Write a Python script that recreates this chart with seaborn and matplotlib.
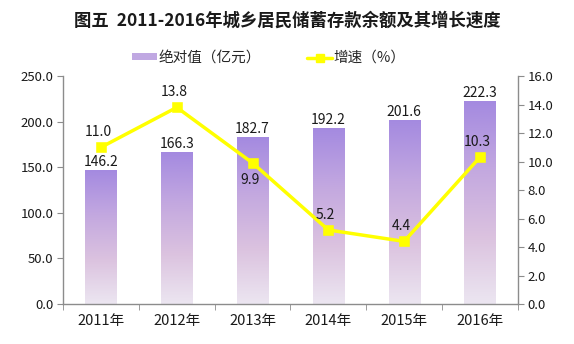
import numpy as np
import pandas as pd
import seaborn as sns
import matplotlib.pyplot as plt
from matplotlib.colors import LinearSegmentedColormap
from matplotlib.lines import Line2D
from matplotlib.patches import Patch

years = ['2011年', '2012年', '2013年', '2014年', '2015年', '2016年']
balance = [146.2, 166.3, 182.7, 192.2, 201.6, 222.3]
growth = [11.0, 13.8, 9.9, 5.2, 4.4, 10.3]
label_side = ['above', 'above', 'below', 'above', 'above', 'above']

sns.set_style('white')
plt.rcParams['font.family'] = ['Noto Sans CJK SC', 'DejaVu Sans']
plt.rcParams['axes.unicode_minus'] = False

df = pd.DataFrame({'year': years, 'balance': balance, 'growth': growth})

fig = plt.figure(figsize=(5.74, 3.44), dpi=100)
ax = fig.add_axes([0.110, 0.116, 0.792, 0.663])

sns.barplot(data=df, x='year', y='balance', ax=ax, width=0.41, color='#b9a0e0')

# gradient fill for bars (purple top -> pale pink bottom)
cmap = LinearSegmentedColormap.from_list('bars', ['#ece6f1', '#dbc2df', '#c3a8e0', '#a48ae0'])
grad = np.linspace(0, 1, 256).reshape(-1, 1)
for p in ax.patches:
    x0, y0 = p.get_x(), p.get_y()
    w, h = p.get_width(), p.get_height()
    ax.imshow(grad, extent=[x0, x0 + w, y0, y0 + h], origin='lower', cmap=cmap,
              aspect='auto', zorder=1)
    p.set_facecolor('none')
    p.set_edgecolor('none')

ax.bar_label(ax.containers[0], fmt='%.1f', padding=1, fontsize=10, color='#1a1a1a')

ax.set_xlim(-0.5, 5.5)
ax.set_ylim(0, 250)
ax.set_yticks(np.arange(0, 251, 50))
ax.set_yticklabels([f'{v:.1f}' for v in np.arange(0, 251, 50)])
ax.set_xlabel('')
ax.set_ylabel('')

ax2 = ax.twinx()
sns.pointplot(data=df, x='year', y='growth', ax=ax2, color='#ffff00', markers='s',
              markersize=6, linewidth=2.5, errorbar=None)
ax2.set_ylim(0, 16)
ax2.set_yticks(np.arange(0, 16.1, 2))
ax2.set_yticklabels([f'{v:.1f}' for v in np.arange(0, 16.1, 2)])
ax2.set_ylabel('')
ax2.set_xlim(-0.5, 5.5)

for i, (g, side) in enumerate(zip(growth, label_side)):
    dy = 6 if side == 'above' else -7
    ax2.annotate(f'{g:.1f}', (i, g), xytext=(-2, dy), textcoords='offset points',
                 ha='center', va='bottom' if side == 'above' else 'top',
                 fontsize=10, color='#1a1a1a')

axis_col = '#8c8c8c'
for a in (ax, ax2):
    a.spines['top'].set_visible(False)
    for s in ['left', 'right', 'bottom']:
        a.spines[s].set_color(axis_col)
        a.spines[s].set_linewidth(1)
ax.spines['right'].set_visible(False)
ax2.spines['left'].set_visible(False)
ax2.spines['bottom'].set_visible(False)

ax.tick_params(axis='y', direction='out', length=4, color=axis_col, labelsize=9.5,
               labelcolor='#1a1a1a', left=True, pad=3)
ax2.tick_params(axis='y', direction='out', length=4, color=axis_col, labelsize=9.5,
                labelcolor='#1a1a1a', right=True, pad=3)
ax.set_xticks(np.arange(-0.5, 6, 1), minor=True)
ax.tick_params(axis='x', which='major', length=0, labelsize=10.5, labelcolor='#1a1a1a', pad=7)
ax.tick_params(axis='x', which='minor', direction='out', length=4, color=axis_col, bottom=True)
ax.grid(False)
ax2.grid(False)

handles = [Patch(facecolor='#c0a8e2', edgecolor='none'),
           Line2D([0], [0], color='#ffff00', lw=2.5, marker='s', markersize=6)]
fig.legend(handles, ['绝对值（亿元）', '增速（%）'], loc='center', bbox_to_anchor=(0.468, 0.832),
           ncol=2, frameon=False, fontsize=10.5, handlelength=1.7, handleheight=0.3,
           columnspacing=3.2, handletextpad=0.1)

fig.suptitle('图五  2011-2016年城乡居民储蓄存款余额及其增长速度', x=0.5, y=0.965,
             fontsize=12.5, fontweight='bold', color='#1a1a1a')

fig.savefig('out.png', dpi=100)
